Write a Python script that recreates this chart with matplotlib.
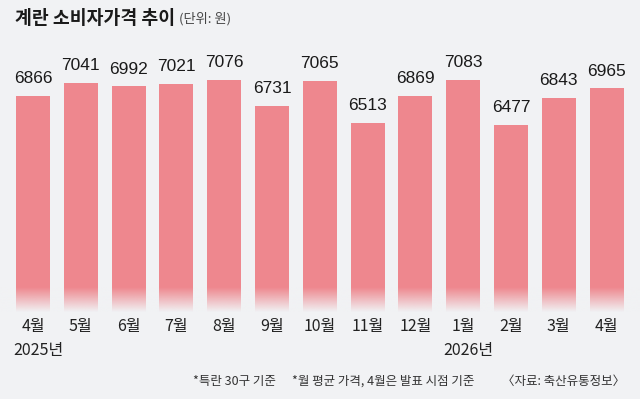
import matplotlib
matplotlib.use("Agg")
import matplotlib.pyplot as plt
import numpy as np

months = ["4월", "5월", "6월", "7월", "8월", "9월", "10월", "11월", "12월", "1월", "2월", "3월", "4월"]
values = [6866, 7041, 6992, 7021, 7076, 6731, 7065, 6513, 6869, 7083, 6477, 6843, 6965]
years = {0: "2025년", 9: "2026년"}
title = "계란 소비자가격 추이"
unit = "(단위: 원)"
notes = ["*특란 30구 기준", "*월 평균 가격, 4월은 발표 시점 기준", "〈자료: 축산유통정보〉"]

BG = "#f1f2f4"
BAR = "#ee878e"
KR = ["Noto Sans CJK KR", "DejaVu Sans"]
NUM = ["Liberation Sans Narrow", "Liberation Sans", "DejaVu Sans"]

Y0, Y1 = 2848, 8137


def ypix(p):
    return Y0 + (399 - p) * (Y1 - Y0) / 399


fig = plt.figure(figsize=(6.4, 3.99), dpi=100, facecolor=BG)
ax = fig.add_axes([0, 0, 1, 1], facecolor=BG)
x = np.arange(len(values))
ax.set_xlim(-0.69, 12.70)
ax.set_ylim(Y0, Y1)
ax.axis("off")

ax.bar(x, values, width=0.711, bottom=0, color=BAR, zorder=2)

# fade at the bottom of the bars
base = 4000
fade_top = 4330
n = 64
grad = np.zeros((n, 2, 4))
grad[..., :3] = matplotlib.colors.to_rgb(BG)
grad[..., 3] = np.linspace(1, 0, n)[:, None]
ax.imshow(grad, extent=[-0.69, 12.70, base, fade_top], origin="lower",
          aspect="auto", zorder=3, interpolation="bilinear")
ax.fill_between([-0.69, 12.70], Y0, base, color=BG, zorder=3)

for xi, v in zip(x, values):
    ax.text(xi, v + 130, f"{v}", ha="center", va="bottom", fontsize=12.5,
            family=NUM, color="#1a1a1a", zorder=4)

for xi, m in zip(x, months):
    ax.text(xi, ypix(327), m, ha="center", va="center", fontsize=11.5,
            family=KR, color="#222222", zorder=4)

for i, yr in years.items():
    ax.text(i - 0.711 / 2 - 0.06, ypix(351), yr,
            ha="left", va="center", fontsize=11.5, family=KR, color="#222222", zorder=4)

fig.text(15 / 640, 1 - 18 / 399, title, ha="left", va="center", fontsize=13.2,
         fontweight="bold", family=KR, color="#1a1a1a")
fig.text(179 / 640, 1 - 19 / 399, unit, ha="left", va="center", fontsize=9.5,
         family=KR, color="#444444")

note_x = [193, 292, 502]
for nx, nt in zip(note_x, notes):
    fig.text(nx / 640, 1 - 381 / 399, nt, ha="left", va="center", fontsize=9,
             family=KR, color="#333333")

fig.savefig("out.png", dpi=100, facecolor=BG)
